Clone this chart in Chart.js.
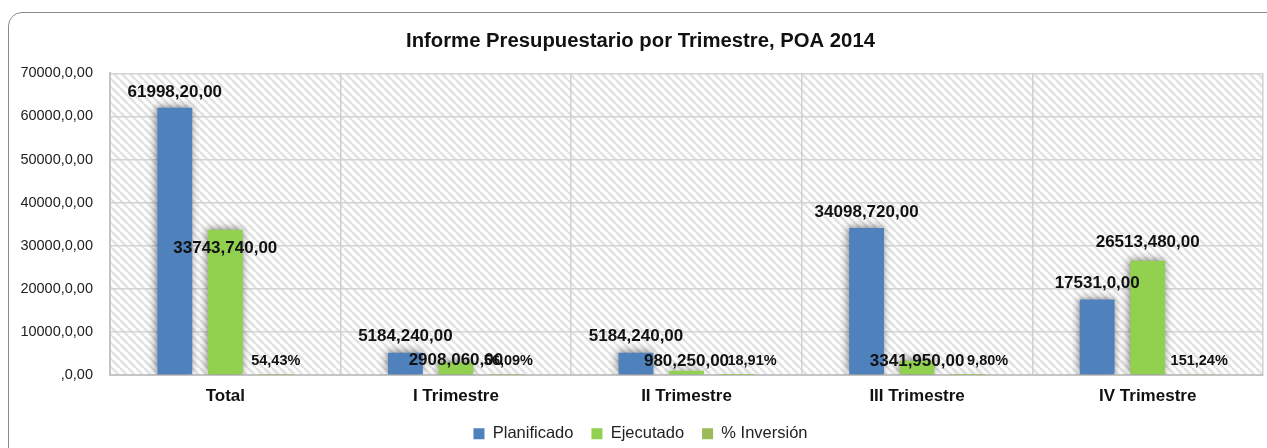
<!DOCTYPE html>
<html>
<head>
<meta charset="utf-8">
<script src="https://cdn.jsdelivr.net/npm/chart.js@4"></script>
<style>
  html, body { margin: 0; padding: 0; background: #fff; overflow: hidden; }
  #wrap { position: relative; width: 1267px; height: 448px; }
  #frame {
    position: absolute; left: 8px; top: 12px; width: 1290px; height: 470px;
    border: 1px solid #8a8a8a; border-radius: 14px; box-sizing: border-box;
  }
  canvas { position: absolute; left: 0; top: 0; }
</style>
</head>
<body>
<div id="wrap">
  <div id="frame"></div>
  <canvas id="myChart" width="1267" height="448"></canvas>
</div>
<script>
const categories = ["Total", "I Trimestre", "II Trimestre", "III Trimestre", "IV Trimestre"];
const planificado = [61998.20, 5184.24, 5184.24, 34098.72, 17531.0];
const ejecutado = [33743.74, 2908.06, 980.25, 3341.95, 26513.48];
const inversion = [54.43, 56.09, 18.91, 9.80, 151.24];
const planLabels = ["61998,20,00", "5184,240,00", "5184,240,00", "34098,720,00", "17531,0,00"];
const ejecLabels = ["33743,740,00", "2908,060,00", "980,250,00", "3341,950,00", "26513,480,00"];
const invLabels = ["54,43%", "56,09%", "18,91%", "9,80%", "151,24%"];
const yTickLabels = [",0,00", "10000,0,00", "20000,0,00", "30000,0,00", "40000,0,00", "50000,0,00", "60000,0,00", "70000,0,00"];

const FONT = "'Liberation Sans', Arial, sans-serif";

// label nudges, as placed in the original sheet
const ejecDy = [19, -2, -10, 1, -18];
const invDx = [0, 2, 15, 20, 1];

function hatch() {
  const c = document.createElement("canvas");
  c.width = 8; c.height = 8;
  const g = c.getContext("2d");
  g.fillStyle = "#fff";
  g.fillRect(0, 0, 8, 8);
  g.strokeStyle = "#e2e2e2";
  g.lineWidth = 2.6;
  [-8, 0, 8].forEach(k => {
    g.beginPath();
    g.moveTo(k, 0);
    g.lineTo(k + 8, 8);
    g.stroke();
  });
  return c;
}

const plotBg = {
  id: "plotBg",
  beforeDraw(chart) {
    const a = chart.chartArea, ctx = chart.ctx;
    ctx.save();
    ctx.fillStyle = ctx.createPattern(hatch(), "repeat");
    ctx.fillRect(a.left, a.top, a.right - a.left, a.bottom - a.top);
    ctx.restore();
  },
  beforeDatasetsDraw(chart) {
    const ctx = chart.ctx;
    ctx.save();
    ctx.shadowColor = "rgba(0,0,0,0.5)";
    ctx.shadowBlur = 8;
    ctx.shadowOffsetX = -1;
    ctx.shadowOffsetY = -1;
  },
  afterDatasetsDraw(chart) {
    const ctx = chart.ctx;
    ctx.restore();
    ctx.save();
    ctx.textAlign = "center";
    ctx.textBaseline = "middle";
    ctx.fillStyle = "#111";
    const base = chart.scales.y.getPixelForValue(0);
    chart.getDatasetMeta(0).data.forEach((el, i) => {
      ctx.font = "bold 17px " + FONT;
      ctx.fillText(planLabels[i], el.x, el.y - 16);
    });
    chart.getDatasetMeta(1).data.forEach((el, i) => {
      ctx.font = "bold 17px " + FONT;
      ctx.fillText(ejecLabels[i], el.x, el.y + ejecDy[i]);
    });
    chart.getDatasetMeta(2).data.forEach((el, i) => {
      ctx.font = "bold 14.5px " + FONT;
      ctx.fillText(invLabels[i], el.x + invDx[i], base - 14);
    });
    ctx.restore();
  }
};

const config = {
  type: "bar",
  data: {
    labels: categories,
    datasets: [
      { label: "Planificado", data: planificado, backgroundColor: "#4f81bd" },
      { label: "Ejecutado", data: ejecutado, backgroundColor: "#92d050" },
      { label: "% Inversión", data: inversion, backgroundColor: "#9bbb59" },
    ],
  },
  options: {
    responsive: false,
    animation: false,
    layout: { padding: { left: 18, right: 4, top: 0, bottom: -4 } },
    datasets: { bar: { categoryPercentage: 0.657, barPercentage: 0.69 } },
    scales: {
      y: {
        min: 0,
        max: 70000,
        ticks: {
          stepSize: 10000,
          padding: 17,
          color: "#222",
          font: { family: FONT, size: 14.5 },
          callback: (v, i) => yTickLabels[i],
        },
        grid: { color: "#d4d4d4", lineWidth: 1.5, drawTicks: false },
        border: { color: "#c4c4c4", width: 2 },
        afterFit: (s) => { s.width = 92; },
      },
      x: {
        ticks: { color: "#111", padding: 11, font: { family: FONT, size: 17, weight: "bold" } },
        grid: { color: "#d0d0d0", lineWidth: 1.5, drawTicks: false },
        border: { color: "#c4c4c4", width: 2 },
        afterFit: (s) => { s.height -= 10; },
      },
    },
    plugins: {
      title: {
        display: true,
        text: "Informe Presupuestario por Trimestre, POA 2014",
        color: "#111",
        font: { family: FONT, size: 20.3, weight: "bold" },
        padding: { top: 29, bottom: 20 },
      },
      legend: {
        position: "bottom",
        labels: {
          boxWidth: 11,
          boxHeight: 11,
          padding: 18,
          color: "#222",
          font: { family: FONT, size: 16.5 },
        },
      },
      tooltip: { enabled: false },
    },
  },
  plugins: [plotBg],
};

new Chart(document.getElementById("myChart"), config);
</script>
</body>
</html>
